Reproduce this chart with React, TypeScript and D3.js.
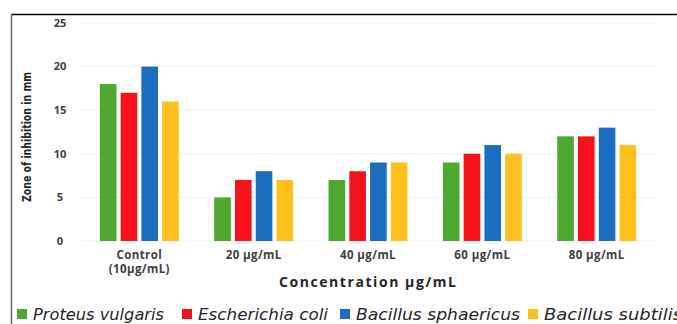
import React from "react";
import * as d3 from "d3";

const categories = ["Control|(10µg/mL)", "20 µg/mL", "40 µg/mL", "60 µg/mL", "80  µg/mL"];
const seriesNames = ["Proteus vulgaris", "Escherichia coli", "Bacillus sphaericus", "Bacillus subtilis"];
const proteus = [18, 5, 7, 9, 12];
const ecoli = [17, 7, 8, 10, 12];
const sphaericus = [20, 8, 9, 11, 13];
const subtilis = [16, 7, 9, 10, 11];
const yTicks = [0, 5, 10, 15, 20, 25];
const colors = ["#4EA72E", "#F5121C", "#1B6DBF", "#FFC01E"];

const W = 677;
const H = 324;
const left = 81;
const right = 655;
const top = 23;
const bottom = 241;

export default function App() {
  const series = [proteus, ecoli, sphaericus, subtilis];
  const x = d3.scaleBand<string>().domain(categories).range([left, right]).paddingInner(0.31).paddingOuter(0.165);
  const x1 = d3.scaleBand<number>().domain([0, 1, 2, 3]).range([0, x.bandwidth()]).paddingInner(0.2);
  const y = d3.scaleLinear().domain([0, 25]).range([bottom, top]);
  const font = "'Open Sans', 'DejaVu Sans', sans-serif";
  const legendX = [17, 182, 340, 528];
  const legendLen = [131, 130, 164, 138];
  return (
    <svg width={W} height={H} style={{ position: "absolute", left: 0, top: 0 }} fontFamily={font}>
      <rect x={0} y={0} width={W} height={H} fill="#fff" />
      <line x1={11} x2={W} y1={14.5} y2={14.5} stroke="#000" strokeWidth={1.5} />
      <line x1={11.5} x2={11.5} y1={14} y2={H} stroke="#666" strokeWidth={1.5} />
      {yTicks.map((t) => (
        <g key={t}>
          {t > 0 && (
            <line x1={left} x2={right} y1={y(t)} y2={y(t)} stroke="#f0f0f0" strokeWidth={1} />
          )}
          <text x={60} y={y(t)} dy="0.35em" textAnchor="middle" fontSize={11} fontWeight="bold" fill="#404040">
            {t}
          </text>
        </g>
      ))}
      <line x1={left} x2={right} y1={bottom} y2={bottom} stroke="#eeeeee" />
      {categories.map((c, i) => (
        <g key={c}>
          {series.map((s, j) => (
            <rect
              key={j}
              x={(x(c) as number) + (x1(j) as number)}
              y={y(s[i])}
              width={x1.bandwidth()}
              height={y(0) - y(s[i])}
              fill={colors[j]}
            />
          ))}
          {c.split("|").map((line, k) => (
            <text
              key={k}
              x={(x(c) as number) + x.bandwidth() / 2}
              y={259 + k * 14}
              textAnchor="middle"
              fontSize={11.5}
              fontWeight="bold"
              fill="#404040"
              letterSpacing={0.4}
            >
              {line}
            </text>
          ))}
        </g>
      ))}
      <text
        x={367.5}
        y={287}
        textAnchor="middle"
        fontSize={14}
        fontWeight="bold"
        fill="#262626"
        textLength={177}
        lengthAdjust="spacing"
      >
        Concentration  µg/mL
      </text>
      <text
        transform={`translate(31,137) rotate(-90)`}
        textAnchor="middle"
        fontSize={11.5}
        fontWeight="bold"
        fill="#262626"
        fontFamily="'Liberation Sans Narrow', 'DejaVu Sans Condensed', sans-serif"
        textLength={130}
        lengthAdjust="spacingAndGlyphs"
      >
        Zone of inhibition  in mm
      </text>
      {seriesNames.map((n, j) => (
        <g key={n} transform={`translate(${legendX[j]},0)`}>
          <rect x={0} y={309} width={10} height={10} fill={colors[j]} />
          <text
            x={16}
            y={320}
            fontSize={15.5}
            fontStyle="italic"
            fill="#262626"
            fontFamily="'DejaVu Sans', sans-serif"
            textLength={legendLen[j]}
            lengthAdjust="spacingAndGlyphs"
          >
            {n}
          </text>
        </g>
      ))}
    </svg>
  );
}
